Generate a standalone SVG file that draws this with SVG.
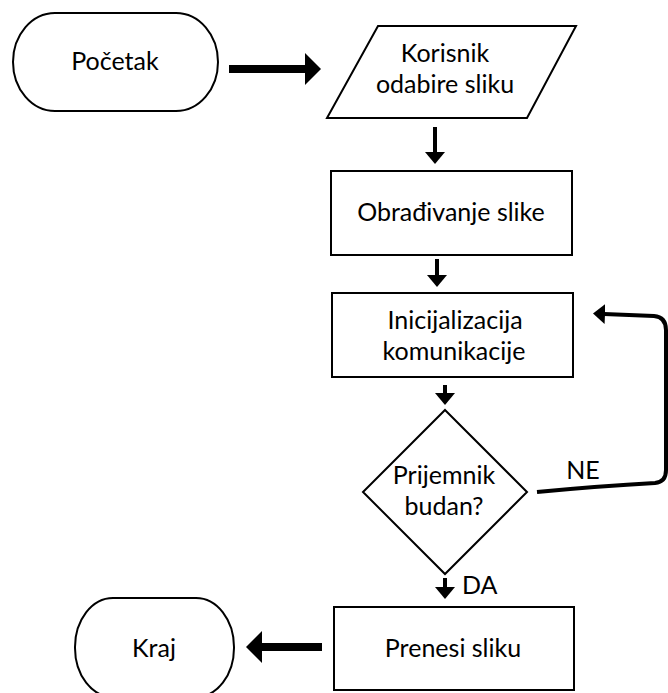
<svg xmlns="http://www.w3.org/2000/svg" width="668" height="693" viewBox="0 0 668 693">
<style>
.shape{fill:#fff;stroke:#000;stroke-width:2}
.lbl{font-family:Lato,"Open Sans",sans-serif;font-size:25px;fill:#000;text-anchor:middle}
.thin{stroke:#000;stroke-width:4;fill:none}
.thick{stroke:#000;stroke-width:8;fill:none}
</style>
<defs>
<marker id="ah" viewBox="0 0 12 20" refX="1" refY="10" markerWidth="12" markerHeight="20" markerUnits="userSpaceOnUse" orient="auto">
<path d="M0,0 L12,10 L0,20 Z" fill="#000"/>
</marker>
<marker id="ahb" viewBox="0 0 16 32" refX="1" refY="16" markerWidth="16" markerHeight="32" markerUnits="userSpaceOnUse" orient="auto">
<path d="M0,0 L16,16 L0,32 Z" fill="#000"/>
</marker>
</defs>
<rect width="668" height="693" fill="#fff"/>
<g id="connectors">
<line class="thick" x1="229" y1="69" x2="306" y2="69" marker-end="url(#ahb)"/>
<line class="thin" x1="435" y1="127" x2="435" y2="153" marker-end="url(#ah)"/>
<line class="thin" x1="437" y1="259" x2="437" y2="276" marker-end="url(#ah)"/>
<line class="thin" x1="445" y1="385" x2="445" y2="394" marker-end="url(#ah)"/>
<line class="thin" x1="445" y1="578" x2="445" y2="588" marker-end="url(#ah)"/>
<path class="thin" d="M537,492 Q600,486 655,483 Q666,482 666,470 L666,330 Q666,317 654,316 L604,314" marker-end="url(#ah)"/>
<line class="thick" x1="322" y1="647" x2="261" y2="647" marker-end="url(#ahb)"/>
<text class="lbl" x="583" y="479">NE</text>
<text class="lbl" x="462" y="594" style="text-anchor:start">DA</text>
</g>
<g id="start">
<rect class="shape" x="13" y="13" width="205" height="98" rx="42" ry="49"/>
<text class="lbl" x="115" y="70">Početak</text>
</g>
<g id="input">
<polygon class="shape" points="378,26 576,26 527,118 327,118"/>
<text class="lbl" x="445" y="62">Korisnik</text>
<text class="lbl" x="445" y="93">odabire sliku</text>
</g>
<g id="process">
<rect class="shape" x="331" y="171" width="241" height="84"/>
<text class="lbl" x="451" y="221">Obrađivanje slike</text>
</g>
<g id="init">
<rect class="shape" x="332" y="293" width="241" height="84"/>
<text class="lbl" x="455" y="329">Inicijalizacija</text>
<text class="lbl" x="454" y="360">komunikacije</text>
</g>
<g id="decision">
<polygon class="shape" points="445,410 527,492 445,574 363,492"/>
<text class="lbl" x="444" y="484">Prijemnik</text>
<text class="lbl" x="444" y="515">budan?</text>
</g>
<g id="transfer">
<rect class="shape" x="334" y="607" width="240" height="83"/>
<text class="lbl" x="453" y="657">Prenesi sliku</text>
</g>
<g id="end">
<rect class="shape" x="75" y="598" width="159" height="99" rx="38" ry="49"/>
<text class="lbl" x="154" y="657">Kraj</text>
</g>
</svg>
